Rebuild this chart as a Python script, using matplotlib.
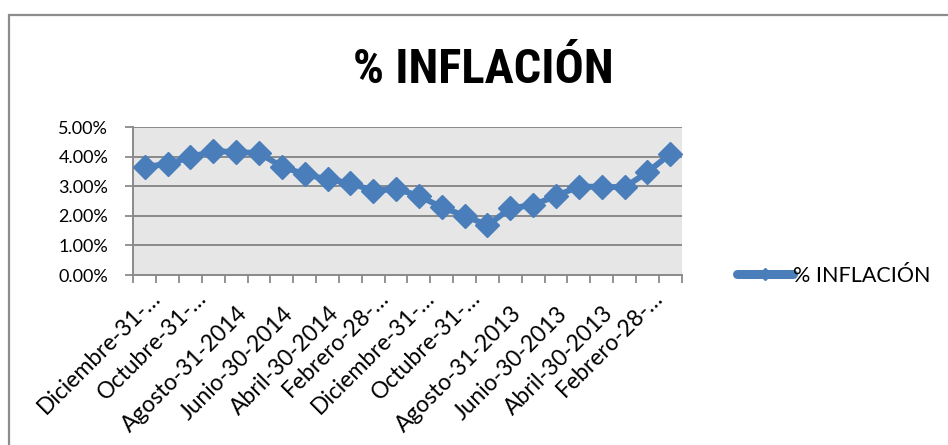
import matplotlib
matplotlib.use("Agg")
import matplotlib.pyplot as plt
from matplotlib.patches import Rectangle
from matplotlib.ticker import FuncFormatter
from matplotlib.transforms import ScaledTranslation

# Monthly inflation, newest first
fechas = [
    "Diciembre-31-2014", "Noviembre-30-2014", "Octubre-31-2014", "Septiembre-30-2014",
    "Agosto-31-2014", "Julio-31-2014", "Junio-30-2014", "Mayo-31-2014",
    "Abril-30-2014", "Marzo-31-2014", "Febrero-28-2014", "Enero-31-2014",
    "Diciembre-31-2013", "Noviembre-30-2013", "Octubre-31-2013", "Septiembre-30-2013",
    "Agosto-31-2013", "Julio-31-2013", "Junio-30-2013", "Mayo-31-2013",
    "Abril-30-2013", "Marzo-31-2013", "Febrero-28-2013", "Enero-31-2013",
]
inflacion = [
    3.67, 3.75, 3.99, 4.20, 4.16, 4.13, 3.67, 3.41, 3.24, 3.11, 2.85, 2.92,
    2.68, 2.29, 2.01, 1.68, 2.26, 2.37, 2.68, 2.99, 2.99, 2.97, 3.48, 4.10,
]
# Axis labels as displayed (every other month, long names shortened)
etiquetas = [
    "Diciembre-31-…", "Octubre-31-…", "Agosto-31-2014", "Junio-30-2014",
    "Abril-30-2014", "Febrero-28-…", "Diciembre-31-…", "Octubre-31-…",
    "Agosto-31-2013", "Junio-30-2013", "Abril-30-2013", "Febrero-28-…",
]
serie = "% INFLACIÓN"

W, H = 948, 445
fig = plt.figure(figsize=(W / 100, H / 100), dpi=100)
plt.rcParams["font.family"] = ["Lato", "DejaVu Sans"]

# outer chart frame
fig.patches.append(Rectangle((8.5 / W, -0.1), 2.0, (H - 15) / H + 0.1,
                             transform=fig.transFigure, fill=False,
                             edgecolor="#8c8c8c", linewidth=1.6))

ax = fig.add_axes([133.3 / W, (H - 275) / H, 548.4 / W, 147.7 / H])
ax.set_facecolor("#e6e6e6")

x = list(range(len(inflacion)))
azul = "#4a7ebb"
ax.plot(x, inflacion, color=azul, linewidth=4.2, marker="D", markersize=12,
        markerfacecolor=azul, markeredgecolor=azul, markeredgewidth=1,
        label=serie, zorder=3)

ax.set_xlim(-0.5, len(inflacion) - 0.5)
ax.set_ylim(0, 5)
ax.set_yticks([0, 1, 2, 3, 4, 5])
ax.yaxis.set_major_formatter(FuncFormatter(lambda v, p: f"{v:.2f}%"))
ax.grid(axis="y", color="#8a8a8a", linewidth=1.4, zorder=1)
ax.set_axisbelow(True)

# category boundary ticks on x, rotated labels every other month
ax.set_xticks([])
ax.set_xticks([i - 0.5 for i in range(len(inflacion) + 1)], minor=True)
ax.tick_params(axis="x", which="minor", length=6, width=1.3, color="#8a8a8a")
ax.tick_params(axis="y", length=6, width=1.3, color="#8a8a8a", labelsize=13, pad=12)

for i, lab in zip(x[::2], etiquetas):
    if lab.endswith("…"):
        dx, dy = 17, 24
    else:
        dx, dy = 12.5, 40
    off = ScaledTranslation(dx / 100, -dy / 100, fig.dpi_scale_trans)
    ax.text(i, 0, lab, transform=ax.get_xaxis_transform() + off,
            rotation=45, ha="right", va="baseline", rotation_mode="anchor",
            fontsize=16.5)

for s in ("top", "right"):
    ax.spines[s].set_visible(False)
for s in ("left", "bottom"):
    ax.spines[s].set_color("#8a8a8a")
    ax.spines[s].set_linewidth(1.4)

fig.text(483 / W, 1 - 83 / H, serie, ha="center", va="baseline",
         fontsize=35, fontweight="bold",
         family=["Roboto Condensed", "Lato", "DejaVu Sans"])

leg = fig.legend(loc="center left", bbox_to_anchor=(726 / W, 1 - 276 / H),
                 frameon=False, fontsize=15.5, handlelength=2.6, handletextpad=0.0,
                 markerscale=0.55, borderpad=0)
for h in leg.get_lines():
    h.set_linewidth(6.5)
    h.set_solid_capstyle("round")

fig.savefig("out.png", dpi=100)
